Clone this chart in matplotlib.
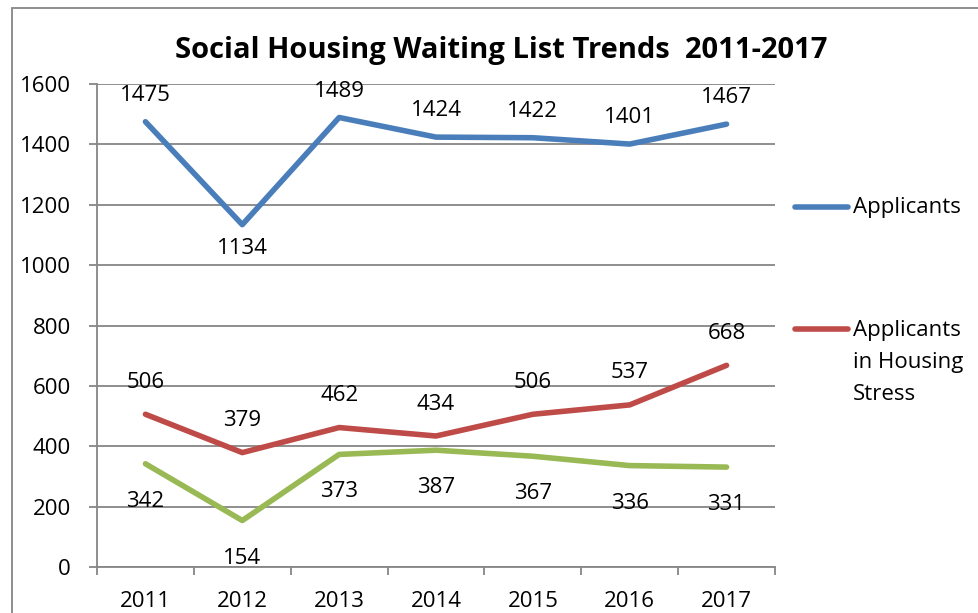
import matplotlib
matplotlib.use('Agg')
import matplotlib.pyplot as plt
from matplotlib.lines import Line2D
from matplotlib.patches import Rectangle

plt.rcParams['font.family'] = ['Open Sans', 'DejaVu Sans']

years = ['2011', '2012', '2013', '2014', '2015', '2016', '2017']
applicants = [1475, 1134, 1489, 1424, 1422, 1401, 1467]
housing_stress = [506, 379, 462, 434, 506, 537, 668]
other = [342, 154, 373, 387, 367, 336, 331]

blue = '#4A7EBB'
red = '#BE4B48'
green = '#98B954'
grey = '#868686'

fig = plt.figure(figsize=(9.79, 6.13), dpi=100)
ax = fig.add_axes([0.0991, 0.0750, 0.6925, 0.7880])

x = list(range(len(years)))
ax.plot(x, applicants, color=blue, lw=4, solid_capstyle='round', solid_joinstyle='round')
ax.plot(x, housing_stress, color=red, lw=4, solid_capstyle='round', solid_joinstyle='round')
ax.plot(x, other, color=green, lw=4, solid_capstyle='round', solid_joinstyle='round')

# data labels
for i, v in enumerate(applicants):
    dy = -17 if v == min(applicants) else 19
    ax.annotate(str(v), (i, v), xytext=(0, dy), textcoords='offset points',
                ha='center', va='center', fontsize=16)
for i, v in enumerate(housing_stress):
    ax.annotate(str(v), (i, v), xytext=(0, 23), textcoords='offset points',
                ha='center', va='center', fontsize=16)
for i, v in enumerate(other):
    ax.annotate(str(v), (i, v), xytext=(0, -27), textcoords='offset points',
                ha='center', va='center', fontsize=16)

ax.set_xlim(-0.5, len(years) - 0.5)
ax.set_ylim(0, 1600)
ax.set_yticks(range(0, 1601, 200))
ax.yaxis.grid(True, color=grey, lw=1.3)
ax.set_axisbelow(True)

ax.set_xticks([i - 0.5 for i in range(len(years) + 1)])
ax.set_xticklabels([])
ax.set_xticks(x, minor=True)
ax.set_xticklabels(years, minor=True)
ax.tick_params(axis='x', which='minor', length=0, pad=17, labelsize=16)
ax.tick_params(axis='x', which='major', length=6, width=1.3, color=grey, direction='out')
ax.tick_params(axis='y', length=6, width=1.3, color=grey, direction='out', pad=13, labelsize=16)

for s in ['top', 'right']:
    ax.spines[s].set_visible(False)
for s in ['left', 'bottom']:
    ax.spines[s].set_color(grey)
    ax.spines[s].set_linewidth(1.3)

fig.text(0.512, 0.918, 'Social Housing Waiting List Trends  2011-2017',
         ha='center', va='center', fontsize=21, fontweight='bold')

# legend drawn beside the plot area
fig.add_artist(Line2D([0.812, 0.866], [0.662, 0.662], color=blue, lw=4,
                      solid_capstyle='round'))
fig.text(0.871, 0.662, 'Applicants', ha='left', va='center', fontsize=16)
fig.add_artist(Line2D([0.812, 0.866], [0.463, 0.463], color=red, lw=4,
                      solid_capstyle='round'))
fig.text(0.871, 0.478, 'Applicants\nin Housing\nStress', ha='left', va='top',
         fontsize=16, linespacing=1.7)

# chart border (partly cropped)
fig.add_artist(Rectangle((12 / 979, -0.2), 1.2, 1.2 - 8 / 613,
                         transform=fig.transFigure, fill=False,
                         edgecolor=grey, lw=1.3))

fig.savefig('out.png', dpi=100)
